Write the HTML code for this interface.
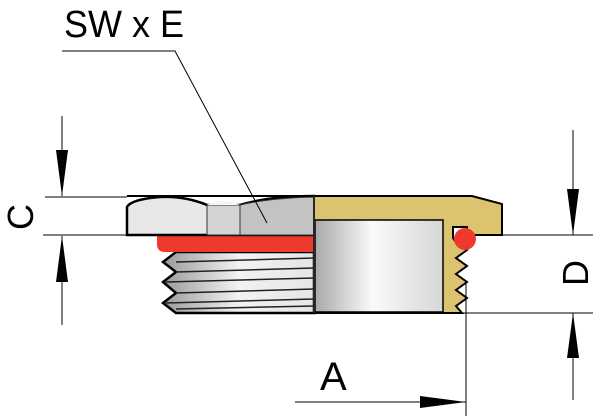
<!DOCTYPE html>
<html><head><meta charset="utf-8"><style>
html,body{margin:0;padding:0;background:#fff;}
svg{display:block;}
text{font-family:"Liberation Sans",sans-serif;}
</style></head><body>
<svg width="600" height="416" viewBox="0 0 600 416" xmlns="http://www.w3.org/2000/svg">
<defs>
<linearGradient id="cav" x1="0" x2="1" y1="0" y2="0">
<stop offset="0" stop-color="#a9a9a9"/><stop offset="0.45" stop-color="#fafafa"/><stop offset="1" stop-color="#d6d6d6"/>
</linearGradient>
<linearGradient id="thr" x1="0" x2="1" y1="0" y2="0">
<stop offset="0" stop-color="#9a9a9a"/><stop offset="0.5" stop-color="#f2f2f2"/><stop offset="1" stop-color="#e6e6e6"/>
</linearGradient>
</defs>
<path d="M176,252 L314,252 L314,313 L176,313 L163,303 L176,293 L163,282 L176,272 L163,262 Z" fill="url(#thr)" stroke="#000" stroke-width="2.5"/>
<g stroke="#222" stroke-width="1.5">
<line x1="176" y1="262" x2="314" y2="258"/>
<line x1="176" y1="272" x2="314" y2="268"/>
<line x1="166" y1="282" x2="314" y2="278"/>
<line x1="176" y1="293" x2="314" y2="289"/>
<line x1="166" y1="303" x2="314" y2="299"/>
<line x1="176" y1="309" x2="314" y2="306"/>
</g>
<path d="M157,235 L314,235 L314,252 L165,252 Q157,252 157,244 Z" fill="#ee3a2c"/>
<path d="M127,235 L127,207 Q130,201 150,198 Q180,194 207,205 L240,205 Q270,196 314,196 L314,235 Z" fill="#e8e8e8" stroke="#000" stroke-width="2.5"/>
<rect x="207" y="205" width="33" height="30" fill="#d3d3d3" stroke="#333" stroke-width="1"/>
<path d="M240,205 Q270,198 314,197 L314,235 L240,235 Z" fill="#c3c3c3" stroke="#333" stroke-width="1"/>
<path d="M207,205 Q220,197 240,205" fill="#f5f5f5" stroke="none"/>
<line x1="127" y1="196" x2="314" y2="196" stroke="#000" stroke-width="2"/>
<path d="M314,196 L472,196 L502,204 L502,235 L467,235 L467,227 L453,227 L453,238 L457,244 L467,250 L456,258 L467,266 L456,274 L467,282 L456,290 L467,298 L456,306 L462,313 L314,313 Z" fill="#dcc36f" stroke="#000" stroke-width="2"/>
<rect x="315" y="220" width="128" height="92" fill="url(#cav)" stroke="#000" stroke-width="1.5"/>
<circle cx="465" cy="239" r="11" fill="#ee3a2c"/>
<line x1="314" y1="196" x2="314" y2="313" stroke="#333" stroke-width="1.5"/>
<g stroke="#000" stroke-width="1" fill="none">
<line x1="45" y1="197" x2="127" y2="197"/>
<line x1="43" y1="235" x2="127" y2="235"/>
<line x1="62" y1="116" x2="62" y2="196"/>
<line x1="62" y1="236" x2="62" y2="325"/>
<line x1="503" y1="235" x2="593" y2="235"/>
<line x1="462" y1="313" x2="593" y2="313"/>
<line x1="573" y1="130" x2="573" y2="235"/>
<line x1="573" y1="313" x2="573" y2="400"/>
<line x1="466" y1="282" x2="466" y2="416"/>
<line x1="295" y1="402" x2="466" y2="402"/>
<polyline points="62,51 175,51 267,223"/>
</g>
<g fill="#000">
<polygon points="56,150 68,150 62,196"/>
<polygon points="56,282 68,282 62,236"/>
<polygon points="567,189 579,189 573,235"/>
<polygon points="567,358 579,358 573,313"/>
<polygon points="420,396 420,408 466,402"/>
</g>
<text x="64" y="37" font-size="38" textLength="120" lengthAdjust="spacingAndGlyphs">SW x E</text>
<text x="320" y="390" font-size="40">A</text>
<text transform="translate(33,217) rotate(-90)" font-size="36" text-anchor="middle">C</text>
<text transform="translate(588,273) rotate(-90)" font-size="36" text-anchor="middle">D</text>
</svg>
</body></html>
